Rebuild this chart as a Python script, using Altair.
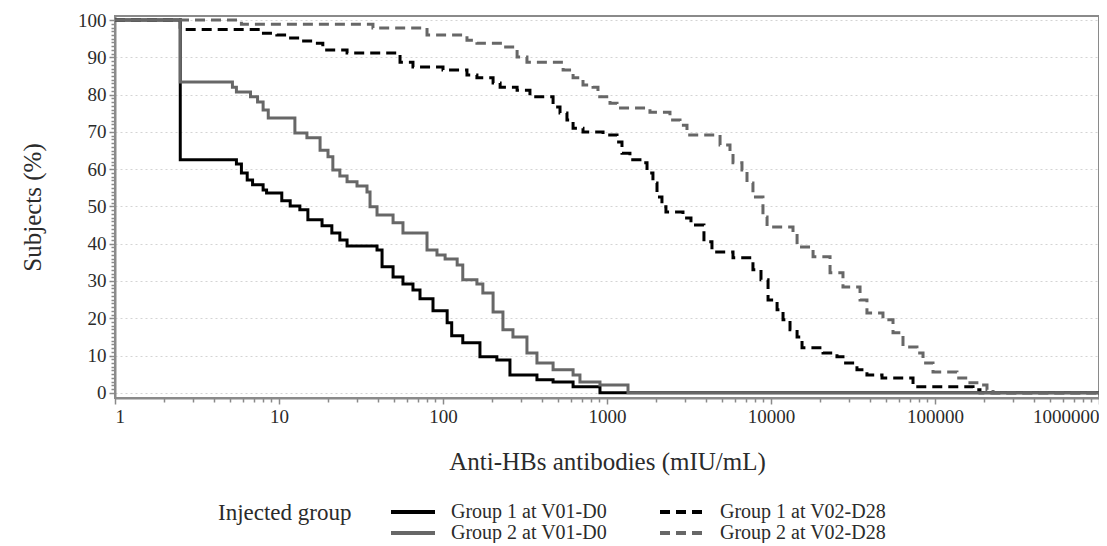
import altair as alt
import pandas as pd

# Reverse cumulative distribution curves (x = titer, y = % subjects >= titer)
g1_v01_x = [1, 2.5, 5.5, 5.9, 6.4, 6.9, 8.0, 8.4, 10.4, 11.7, 13.4, 15.0, 18.3, 21.0, 23.5, 26.0, 39.6, 42.5,
            49.6, 57.0, 65.6, 72.4, 86.9, 106, 113, 132, 168, 213, 256, 374, 469, 621, 906, 1000000]
g1_v01_y = [100, 62.5, 61.4, 59.0, 57.1, 55.8, 54.4, 53.6, 51.5, 50.1, 49.1, 46.4, 44.8, 42.9, 41.0, 39.4, 38.3, 33.8,
            31.1, 29.2, 27.6, 25.2, 22.0, 18.8, 15.3, 13.4, 9.7, 8.8, 4.8, 3.5, 2.9, 1.6, 0, 0]

g2_v01_x = [1, 2.5, 5.2, 5.5, 6.7, 7.4, 8.0, 8.6, 12.5, 14.8, 17.8, 19.9, 21.3, 23.5, 26.0, 29.9, 34.4, 35.9, 39.6,
            49.6, 57.0, 79.9, 91.9, 103, 122, 132, 161, 175, 202, 232, 267, 325, 374, 469, 621, 684, 906, 1343, 1000000]
g2_v01_y = [100, 83.4, 82.0, 80.7, 79.4, 78.0, 75.9, 73.7, 69.7, 68.4, 65.1, 63.3, 59.8, 58.2, 56.6, 55.5, 53.9, 49.9, 47.7,
            45.6, 42.9, 38.3, 37.0, 35.9, 34.3, 30.3, 29.2, 26.8, 21.7, 16.9, 15.0, 10.7, 8.0, 6.2, 4.8, 2.9, 2.1, 0, 0]

g1_v02_x = [1, 2.5, 7.7, 9.7, 11.2, 13.4, 16.1, 18.5, 26.0, 54.7, 65.6, 100, 140, 161, 202, 223, 283, 339, 469, 517,
            570, 621, 714, 946, 1151, 1234, 1380, 1588, 1754, 1906, 2018, 2163, 2288, 2906, 3251, 3901, 4365, 5866,
            7762, 8689, 9594, 10890, 11840, 13060, 14420, 15460, 20760, 25250, 27470, 33430, 38460, 47520, 73450,
            170600, 188000, 1000000]
g1_v02_y = [100, 97.5, 96.5, 96.0, 95.2, 94.4, 93.8, 92.0, 91.2, 88.7, 87.4, 86.6, 85.3, 84.5, 83.1, 82.0, 81.2, 79.4, 76.7, 75.1,
            73.2, 71.0, 70.0, 69.2, 67.3, 64.3, 62.5, 61.7, 59.0, 56.3, 52.5, 49.9, 48.5, 46.9, 45.0, 40.5, 37.8, 36.2,
            33.0, 30.3, 24.9, 22.3, 19.6, 16.9, 15.0, 12.1, 10.7, 9.7, 8.0, 6.2, 4.8, 4.0, 1.6,
            0.8, 0, 0]

g2_v02_x = [1, 5.9, 37.4, 79.9, 140, 161, 232, 283, 325, 540, 621, 714, 822, 881, 1043, 1151, 1828, 2421, 2787, 3074,
            4890, 5623, 5866, 6653, 7139, 7762, 8933, 9462, 13620, 14420, 18050, 22910, 27470, 34910, 38460, 48160,
            55460, 63800, 77620, 84520, 97250, 136100, 163300, 188000, 207500, 225900, 1000000]
g2_v02_y = [100, 98.9, 97.9, 96.0, 94.6, 93.8, 92.8, 90.1, 88.7, 86.6, 84.5, 82.6, 82.0, 79.4, 77.7, 76.4, 75.3, 73.2, 71.8, 69.2,
            66.5, 64.3, 61.7, 59.8, 56.3, 52.5, 47.2, 44.5, 42.9, 39.1, 36.5, 32.2, 28.4, 24.9, 21.4, 19.6,
            16.1, 12.3, 10.7, 8.0, 5.6, 4.0, 2.7, 2.1, 0.8, 0, 0]

groups = ["Group 1 at V01-D0", "Group 1 at V02-D28", "Group 2 at V01-D0", "Group 2 at V02-D28"]
colors = ["#000000", "#000000", "#676767", "#676767"]
dashes = [[1, 0], [10, 6], [1, 0], [10, 6]]

x_major = [1, 10, 100, 1000, 10000, 100000, 1000000]
x_minor = [m * d for d in [1, 10, 100, 1000, 10000, 100000] for m in range(2, 10)]
y_major = [0, 10, 20, 30, 40, 50, 60, 70, 80, 90, 100]
y_minor = [v for v in range(0, 101) if v % 10 != 0]

series = [(groups[0], g1_v01_x, g1_v01_y), (groups[1], g1_v02_x, g1_v02_y),
          (groups[2], g2_v01_x, g2_v01_y), (groups[3], g2_v02_x, g2_v02_y)]
rows = []
for name, xs, ys in series:
    for i, (xv, yv) in enumerate(zip(xs, ys)):
        rows.append({"group": name, "titer": xv, "pct": yv, "i": i})
df = pd.DataFrame(rows)

FONT = "Liberation Serif"
TXT = "#2b2b2b"

xscale = alt.Scale(type="log", domain=[1, 1000000], nice=False)
yscale = alt.Scale(domain=[-1.4, 101.1], nice=False, zero=False)

leg = alt.Legend(title="Injected group", orient="none", legendX=103, legendY=486,
                 columns=2, titleOrient="left", direction="horizontal",
                 titleAnchor="start", titleBaseline="top", clipHeight=20, labelLimit=400)
color = alt.Color("group:N", scale=alt.Scale(domain=groups, range=colors), legend=leg)
dash = alt.StrokeDash("group:N", scale=alt.Scale(domain=groups, range=dashes), legend=leg)

lines = alt.Chart(df).mark_line(interpolate="step-after", strokeWidth=3, clip=True).encode(
    x=alt.X("titer:Q", scale=xscale,
            axis=alt.Axis(values=x_major, format="d", title="Anti-HBs antibodies (mIU/mL)",
                          orient="bottom", labelFlush=True, tickSize=6, labelPadding=3,
                          titlePadding=23, grid=False)),
    y=alt.Y("pct:Q", scale=yscale,
            axis=alt.Axis(values=y_major, title="Subjects (%)", orient="left", tickSize=6,
                          labelPadding=3, titlePadding=32, grid=True)),
    color=color,
    strokeDash=dash,
    order="i:Q",
    detail="group:N",
)

minor = alt.Chart(df).mark_point(opacity=0).encode(
    x=alt.X("titer:Q", scale=xscale,
            axis=alt.Axis(values=x_minor, labels=False, title=None, orient="bottom", tickSize=4,
                          domain=False, grid=False)),
    y=alt.Y("pct:Q", scale=yscale,
            axis=alt.Axis(values=y_minor, labels=False, title=None, orient="left", tickSize=4,
                          domain=False, grid=False)),
)

chart = alt.layer(lines, minor).resolve_axis(x="independent", y="independent").properties(
    width=984, height=382,
    autosize=alt.AutoSizeParams(type="none"),
    padding={"left": 107, "top": 8, "right": 0, "bottom": 145},
).configure_view(
    stroke="#8a8a8a", strokeWidth=2
).configure_axis(
    labelFont=FONT, titleFont=FONT, labelFontSize=19, titleFontSize=25, titleFontWeight="normal",
    labelColor=TXT, titleColor=TXT, domainColor="#8a8a8a", domainWidth=2, tickColor="#8a8a8a",
    tickWidth=1.5, gridColor="#d4d4d4", gridDash=[2, 3], gridWidth=1,
).configure_legend(
    titleFont=FONT, labelFont=FONT, titleFontSize=23, labelFontSize=20, titleFontWeight="normal",
    titleColor=TXT, labelColor=TXT, symbolType="stroke", symbolSize=1936, symbolStrokeWidth=4,
    columnPadding=50, rowPadding=1, labelOffset=14, titlePadding=37, labelLimit=400,
)

chart.save("out.html", embed_options={"renderer": "svg", "actions": False})
